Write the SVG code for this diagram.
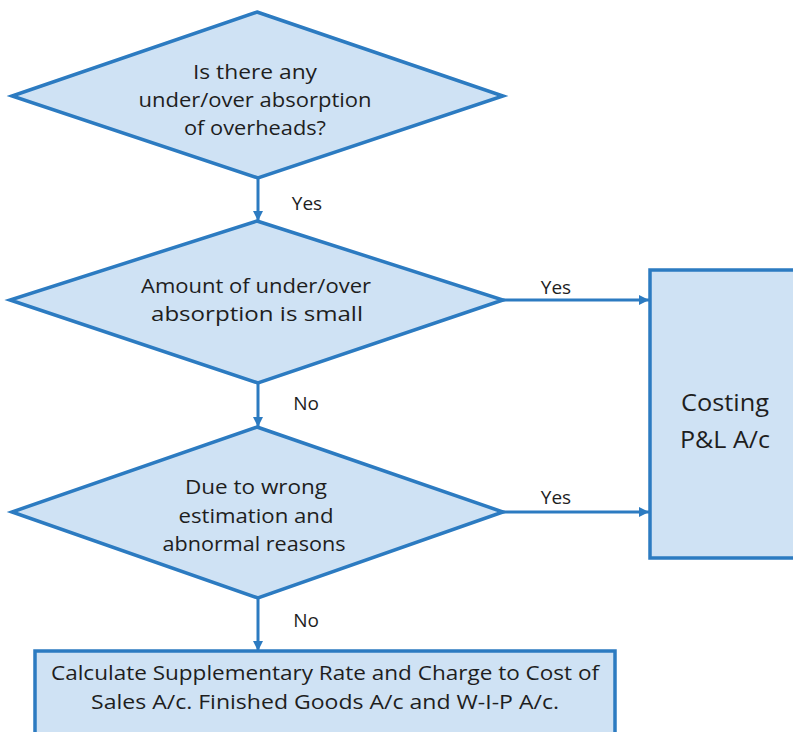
<svg xmlns="http://www.w3.org/2000/svg" width="793" height="732" viewBox="0 0 793 732">
<defs>
<style>
.shape{fill:#CFE2F4;stroke:#2C7BC1;stroke-width:3.5;stroke-linejoin:miter}
.conn{stroke:#2C7BC1;stroke-width:3;fill:none}
.t{font-family:"Open Sans","Noto Sans",sans-serif;fill:#1E1E1E;text-anchor:middle}
.q{font-size:20px}
.d{font-size:20px}
.lbl{font-size:19px}
.big{font-size:24px}
</style>
<marker id="ah" viewBox="0 0 10 10" refX="10" refY="5" markerWidth="10" markerHeight="10" markerUnits="userSpaceOnUse" orient="auto">
<path d="M0,0 L10,5 L0,10 z" fill="#2C7BC1"/>
</marker>
</defs>
<rect width="793" height="732" fill="#FFFFFF"/>
<g id="connectors">
<line class="conn" x1="258" y1="178" x2="258" y2="221" marker-end="url(#ah)"/>
<line class="conn" x1="503" y1="300" x2="649" y2="300" marker-end="url(#ah)"/>
<line class="conn" x1="258" y1="383" x2="258" y2="427" marker-end="url(#ah)"/>
<line class="conn" x1="503" y1="512" x2="649" y2="512" marker-end="url(#ah)"/>
<line class="conn" x1="258" y1="598" x2="258" y2="651" marker-end="url(#ah)"/>
<text class="t lbl" x="307" y="210">Yes</text>
<text class="t lbl" x="556" y="294">Yes</text>
<text class="t lbl" x="306" y="410">No</text>
<text class="t lbl" x="556" y="504">Yes</text>
<text class="t lbl" x="306" y="627">No</text>
</g>
<g id="d1">
<polygon class="shape" points="257,12 503,96 258,178 12,96"/>
<text class="t q" x="255" y="79" textLength="124" lengthAdjust="spacingAndGlyphs">Is there any</text>
<text class="t q" x="255" y="107" textLength="233" lengthAdjust="spacingAndGlyphs">under/over absorption</text>
<text class="t q" x="255" y="135" textLength="142" lengthAdjust="spacingAndGlyphs">of overheads?</text>
</g>
<g id="d2">
<polygon class="shape" points="257,221 503,300 258,383 10,300"/>
<text class="t d" x="256" y="293" textLength="230" lengthAdjust="spacingAndGlyphs">Amount of under/over</text>
<text class="t d" x="257" y="321" textLength="212" lengthAdjust="spacingAndGlyphs">absorption is small</text>
</g>
<g id="d3">
<polygon class="shape" points="257,427 503,512 258,598 12,512"/>
<text class="t d" x="256" y="494" textLength="142" lengthAdjust="spacingAndGlyphs">Due to wrong</text>
<text class="t d" x="256" y="523" textLength="155" lengthAdjust="spacingAndGlyphs">estimation and</text>
<text class="t d" x="254" y="551" textLength="183" lengthAdjust="spacingAndGlyphs">abnormal reasons</text>
</g>
<g id="costing">
<rect class="shape" x="650" y="270" width="160" height="288"/>
<text class="t big" x="725" y="411" textLength="88" lengthAdjust="spacingAndGlyphs">Costing</text>
<text class="t big" x="725" y="448" textLength="90" lengthAdjust="spacingAndGlyphs">P&amp;L A/c</text>
</g>
<g id="calc">
<rect class="shape" x="35" y="651" width="580" height="100"/>
<text class="t d" x="325" y="680" textLength="548" lengthAdjust="spacingAndGlyphs">Calculate Supplementary Rate and Charge to Cost of</text>
<text class="t d" x="325" y="709" textLength="468" lengthAdjust="spacingAndGlyphs">Sales A/c. Finished Goods A/c and W-I-P A/c.</text>
</g>
</svg>
